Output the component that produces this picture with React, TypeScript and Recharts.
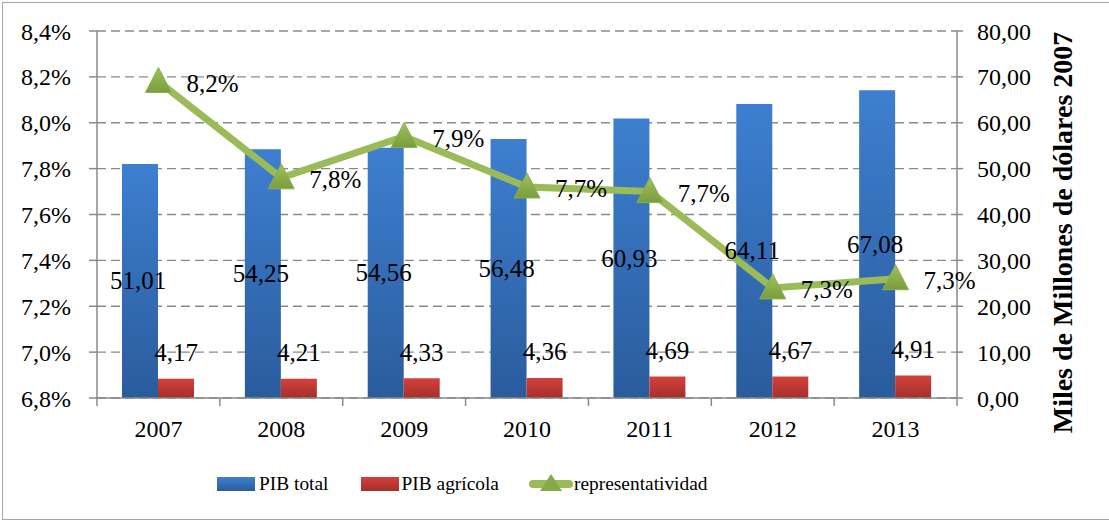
import React from 'react';
import {
  ComposedChart,
  Bar,
  Line,
  XAxis,
  YAxis,
  CartesianGrid,
  Legend,
  LabelList,
  Label,
} from 'recharts';

const years = ['2007', '2008', '2009', '2010', '2011', '2012', '2013'];
const pibTotal = [51.01, 54.25, 54.56, 56.48, 60.93, 64.11, 67.08];
const pibAgricola = [4.17, 4.21, 4.33, 4.36, 4.69, 4.67, 4.91];
const representatividad = [8.18, 7.76, 7.94, 7.72, 7.7, 7.28, 7.32];
const leftTicks = [6.8, 7.0, 7.2, 7.4, 7.6, 7.8, 8.0, 8.2, 8.4];
const rightTicks = [0, 10, 20, 30, 40, 50, 60, 70, 80];
const seriesNames = ['PIB total', 'PIB agrícola', 'representatividad'];
const rightAxisTitle = 'Miles de Millones de dólares 2007';

const data = years.map((y, i) => ({
  year: y,
  total: pibTotal[i],
  agricola: pibAgricola[i],
  rep: representatividad[i],
}));

const FONT = 'Liberation Serif, DejaVu Serif, serif';
const GRID = '#8a8a8a';
const GREEN = '#9BBB59';

const comma2 = (v: number) => v.toFixed(2).replace('.', ',');
const pct1 = (v: number) => v.toFixed(1).replace('.', ',') + '%';

const TriangleDot = (props: any) => {
  const { cx, cy, index } = props;
  if (cx == null || cy == null) return null;
  const pts = `${cx},${cy - 14} ${cx + 13},${cy + 11} ${cx - 13},${cy + 11}`;
  return (
    <polygon
      key={`tri-${index}`}
      points={pts}
      fill="url(#triGrad)"
      stroke="#8DAF4C"
      strokeWidth={1}
      strokeLinejoin="round"
    />
  );
};

const XTick = (props: any) => {
  const { x, y, payload, index, visibleTicksCount, width } = props;
  const band = width / visibleTicksCount;
  const axisY = y - 8 - 14;
  return (
    <g>
      <line x1={x - band / 2} x2={x - band / 2} y1={axisY} y2={axisY + 8} stroke={GRID} strokeWidth={1.5} />
      {index === visibleTicksCount - 1 && (
        <line x1={x + band / 2} x2={x + band / 2} y1={axisY} y2={axisY + 8} stroke={GRID} strokeWidth={1.5} />
      )}
      <text x={x} y={y} dy="0.71em" textAnchor="middle" style={{ fontFamily: FONT }} fontSize={24} fill="#000">
        {payload.value}
      </text>
    </g>
  );
};

const TotalLabel = (props: any) => {
  const { x, y, width, height, value } = props;
  return (
    <text
      x={x + width / 2 - 2}
      y={y + height / 2}
      textAnchor="middle"
      dominantBaseline="central"
      style={{ fontFamily: FONT }}
      fontSize={25}
      fill="#000"
    >
      {comma2(value)}
    </text>
  );
};

const AgriLabel = (props: any) => {
  const { x, y, width, value } = props;
  return (
    <text
      x={x + width / 2}
      y={y - 26}
      textAnchor="middle"
      dominantBaseline="central"
      style={{ fontFamily: FONT }}
      fontSize={25}
      fill="#000"
    >
      {comma2(value)}
    </text>
  );
};

const RepLabel = (props: any) => {
  const { x, y, value } = props;
  return (
    <text
      x={x + 28}
      y={y + 2}
      textAnchor="start"
      dominantBaseline="central"
      style={{ fontFamily: FONT }}
      fontSize={25}
      fill="#000"
    >
      {pct1(value)}
    </text>
  );
};

const RightTitle = (props: any) => {
  const { viewBox } = props;
  const cx = viewBox.x + 105;
  const cy = viewBox.y + viewBox.height / 2 + 18;
  return (
    <text
      x={cx}
      y={cy}
      transform={`rotate(-90 ${cx} ${cy})`}
      textAnchor="middle"
      dominantBaseline="central"
      style={{ fontFamily: FONT }}
      fontWeight="bold"
      fontSize={28}
      fill="#000"
    >
      {rightAxisTitle}
    </text>
  );
};

const LegendContent = () => {
  const text: React.CSSProperties = { fontFamily: FONT, fontSize: 19.4, color: '#000', lineHeight: '20px' };
  return (
    <div style={{ display: 'flex', alignItems: 'center', whiteSpace: 'nowrap' }}>
      <div style={{ width: 38, height: 14, background: 'linear-gradient(#3D7FD0, #2A5C9C)' }} />
      <span style={{ ...text, marginLeft: 4 }}>{seriesNames[0]}</span>
      <div style={{ width: 38, height: 14, marginLeft: 32, background: 'linear-gradient(#D4413C, #A42F2B)' }} />
      <span style={{ ...text, marginLeft: 3 }}>{seriesNames[1]}</span>
      <svg width={44} height={24} style={{ marginLeft: 30 }}>
        <line x1={4} x2={40} y1={12} y2={12} stroke={GREEN} strokeWidth={8} strokeLinecap="round" />
        <polygon points="22,2 33,19 11,19" fill="#86A94A" />
      </svg>
      <span style={{ ...text, marginLeft: 1 }}>{seriesNames[2]}</span>
    </div>
  );
};

const tickStyle = { fontSize: 24, fill: '#000', style: { fontFamily: FONT } };

export default function App() {
  return (
    <div style={{ position: 'absolute', left: 0, top: 0, width: 1109, height: 522, background: '#fff', fontFamily: FONT }}>
      <div
        style={{
          position: 'absolute',
          left: 2,
          top: 2,
          width: 1110,
          height: 518,
          border: '1.5px solid #a6a6a6',
          boxSizing: 'border-box',
        }}
      />
      <ComposedChart
        width={1109}
        height={522}
        data={data}
        margin={{ top: 31, right: 0, left: 0, bottom: 74 }}
        barGap={0}
        style={{ position: 'absolute', left: 0, top: 0, fontFamily: FONT }}
      >
        <defs>
          <linearGradient id="blueGrad" x1="0" y1="0" x2="0" y2="1">
            <stop offset="0%" stopColor="#3D7FD0" />
            <stop offset="100%" stopColor="#2A5C9C" />
          </linearGradient>
          <linearGradient id="redGrad" x1="0" y1="0" x2="0" y2="1">
            <stop offset="0%" stopColor="#D4413C" />
            <stop offset="100%" stopColor="#A42F2B" />
          </linearGradient>
          <linearGradient id="triGrad" x1="0" y1="0" x2="0" y2="1">
            <stop offset="0%" stopColor="#9DC25A" />
            <stop offset="100%" stopColor="#7A9C3E" />
          </linearGradient>
        </defs>
        <CartesianGrid
          yAxisId="left"
          vertical={false}
          stroke={GRID}
          strokeWidth={1.4}
          strokeDasharray="9 5"
        />
        <XAxis
          dataKey="year"
          height={50}
          axisLine={{ stroke: GRID, strokeWidth: 1.5 }}
          tickLine={false}
          tickSize={8}
          tickMargin={14}
          interval={0}
          tick={<XTick />}
        />
        <YAxis
          yAxisId="left"
          orientation="left"
          width={97}
          domain={[6.8, 8.4]}
          ticks={leftTicks}
          interval={0}
          tickFormatter={pct1}
          axisLine={{ stroke: GRID, strokeWidth: 1.5 }}
          tickLine={{ stroke: GRID, strokeWidth: 1.5 }}
          tickSize={8}
          tickMargin={18}
          tick={tickStyle}
        />
        <YAxis
          yAxisId="right"
          orientation="right"
          width={152}
          domain={[0, 80]}
          ticks={rightTicks}
          interval={0}
          tickFormatter={comma2}
          axisLine={{ stroke: GRID, strokeWidth: 1.5 }}
          tickLine={{ stroke: GRID, strokeWidth: 1.5 }}
          tickSize={6}
          tickMargin={14}
          tick={tickStyle}
        >
          <Label content={<RightTitle />} />
        </YAxis>
        <Legend
          layout="vertical"
          align="center"
          verticalAlign="middle"
          content={<LegendContent />}
          wrapperStyle={{ left: 217, top: 472, width: 'auto', height: 24 }}
        />
        <Bar
          yAxisId="right"
          dataKey="total"
          name={seriesNames[0]}
          fill="url(#blueGrad)"
          barSize={36}
          isAnimationActive={false}
        >
          <LabelList dataKey="total" content={<TotalLabel />} />
        </Bar>
        <Bar
          yAxisId="right"
          dataKey="agricola"
          name={seriesNames[1]}
          fill="url(#redGrad)"
          barSize={36}
          isAnimationActive={false}
        >
          <LabelList dataKey="agricola" content={<AgriLabel />} />
        </Bar>
        <Line
          yAxisId="left"
          dataKey="rep"
          name={seriesNames[2]}
          stroke={GREEN}
          strokeWidth={7}
          dot={<TriangleDot />}
          activeDot={false}
          isAnimationActive={false}
        >
          <LabelList dataKey="rep" content={<RepLabel />} />
        </Line>
      </ComposedChart>
    </div>
  );
}
